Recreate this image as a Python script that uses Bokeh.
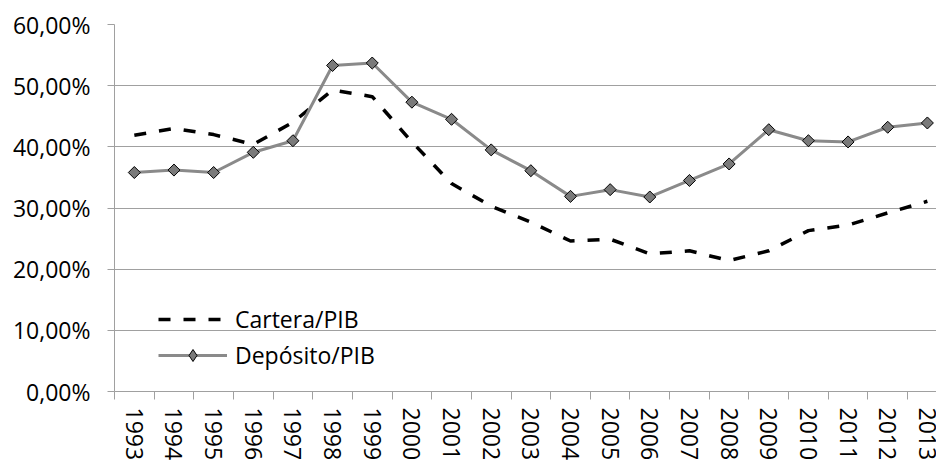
import numpy as np
from bokeh.plotting import figure
from bokeh.models import Range1d, FixedTicker, Legend, LegendItem, ColumnDataSource
from bokeh.embed import file_html
from bokeh.resources import INLINE

years = [1993, 1994, 1995, 1996, 1997, 1998, 1999, 2000, 2001, 2002, 2003,
         2004, 2005, 2006, 2007, 2008, 2009, 2010, 2011, 2012, 2013]
cartera = [41.9, 43.0, 42.0, 40.4, 44.0, 49.3, 48.2, 40.8, 34.0, 30.3, 27.7,
           24.6, 24.9, 22.5, 23.0, 21.4, 23.0, 26.3, 27.2, 29.2, 31.1]
deposito = [35.8, 36.2, 35.8, 39.1, 41.0, 53.3, 53.7, 47.3, 44.5, 39.5, 36.1,
            31.9, 33.0, 31.8, 34.5, 37.2, 42.8, 41.0, 40.8, 43.2, 43.9]
y_ticks = [0, 10, 20, 30, 40, 50, 60]
y_tick_labels = ["0,00%", "10,00%", "20,00%", "30,00%", "40,00%", "50,00%", "60,00%"]
year_labels = [str(y) for y in years]
series_names = ["Cartera/PIB", "Depósito/PIB"]

FONT = "Open Sans"
FS = "23px"
GRID = "#a0a0a0"

src = ColumnDataSource(dict(year=years, cartera=cartera, deposito=deposito))

p = figure(width=936, height=463, output_backend="svg", toolbar_location=None,
           x_range=Range1d(years[0] - 0.5, years[-1] + 0.23),
           y_range=Range1d(0, 60),
           min_border_left=114, min_border_right=0, min_border_top=24, min_border_bottom=72)
p.outline_line_color = None
p.background_fill_color = "white"
p.border_fill_color = "white"

# grid
p.xgrid.grid_line_color = None
p.ygrid.grid_line_color = GRID
p.ygrid.grid_line_width = 1

# y axis
ya = p.yaxis[0]
ya.ticker = FixedTicker(ticks=y_ticks, minor_ticks=[])
ya.major_label_overrides = {t: l for t, l in zip(y_ticks, y_tick_labels)}
ya.axis_line_color = GRID
ya.major_tick_line_color = GRID
ya.major_tick_out = 7
ya.major_tick_in = 0
ya.minor_tick_line_color = None
ya.minor_tick_out = 0
ya.major_label_standoff = 17
ya.major_label_text_font = FONT
ya.major_label_text_font_size = FS
ya.major_label_text_color = "#000000"

# x axis
xa = p.xaxis[0]
xa.ticker = FixedTicker(ticks=years, minor_ticks=[y - 0.5 for y in years] + [years[-1] + 0.5])
xa.major_label_overrides = {y: l for y, l in zip(years, year_labels)}
xa.major_label_orientation = "vertical"
xa.axis_line_color = GRID
xa.major_tick_line_color = None
xa.major_tick_out = 0
xa.major_tick_in = 0
xa.minor_tick_line_color = GRID
xa.minor_tick_out = 8
xa.minor_tick_in = 0
xa.major_label_standoff = 8
xa.major_label_text_font = FONT
xa.major_label_text_font_size = FS
xa.major_label_text_color = "#000000"

# series
r1 = p.line("year", "cartera", source=src, line_color="black", line_width=3.5,
            line_dash="12 13")
r2 = p.line("year", "deposito", source=src, line_color="#8a8a8a", line_width=3)
# diamond marker used for the legend swatch (hidden beneath the rotated squares)
r4 = p.scatter("year", "deposito", source=src, marker="diamond", size=10,
               fill_color="#7a7a7a", line_color="black", line_width=1)
r3 = p.scatter("year", "deposito", source=src, marker="square", size=8.5,
               angle=np.pi / 4, fill_color="#7a7a7a", line_color="black", line_width=1)

legend = Legend(items=[LegendItem(label=series_names[0], renderers=[r1]),
                       LegendItem(label=series_names[1], renderers=[r2, r4])],
                location=(44, 20), orientation="vertical")
legend.background_fill_alpha = 0
legend.border_line_color = None
legend.padding = 0
legend.margin = 0
legend.spacing = 4
legend.glyph_width = 69
legend.glyph_height = 30
legend.label_height = 30
legend.label_standoff = 8
legend.label_text_font = FONT
legend.label_text_font_size = FS
legend.label_text_color = "#000000"
p.add_layout(legend, "center")

open("out.html", "w").write(file_html(p, INLINE))
